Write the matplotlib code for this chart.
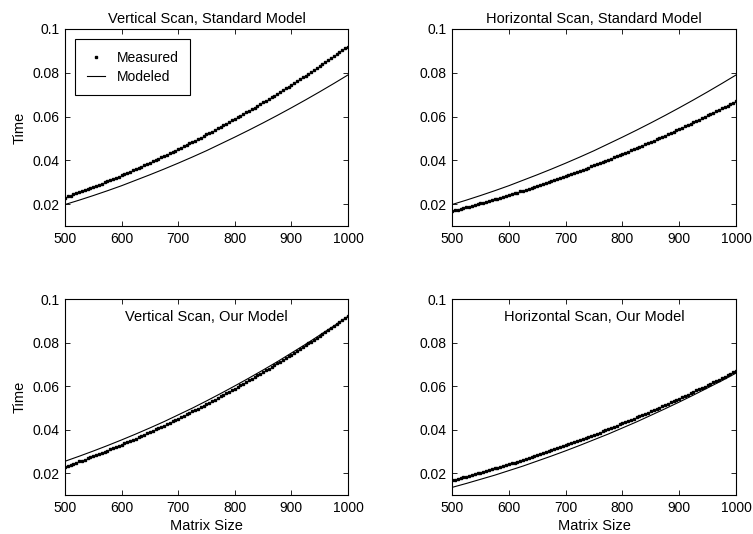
import numpy as np
import matplotlib
matplotlib.use('Agg')
import matplotlib.pyplot as plt

plt.rcParams['font.family'] = ['Liberation Sans', 'DejaVu Sans']

# matrix sizes for measured points (step 5) and model curves (step 25)
n_meas = np.arange(500, 1001, 5)
n_model = np.arange(500, 1001, 25)

vert_measured = [
    0.0230, 0.0235, 0.0239, 0.0244, 0.0249, 0.0254, 0.0258, 0.0263, 0.0268, 0.0273,
    0.0278, 0.0283, 0.0289, 0.0294, 0.0299, 0.0304, 0.0310, 0.0315, 0.0320, 0.0326,
    0.0331, 0.0337, 0.0342, 0.0348, 0.0354, 0.0359, 0.0365, 0.0371, 0.0377, 0.0383,
    0.0389, 0.0395, 0.0401, 0.0407, 0.0413, 0.0419, 0.0425, 0.0432, 0.0438, 0.0444,
    0.0451, 0.0457, 0.0464, 0.0470, 0.0477, 0.0484, 0.0490, 0.0497, 0.0504, 0.0511,
    0.0518, 0.0524, 0.0531, 0.0538, 0.0546, 0.0553, 0.0560, 0.0567, 0.0574, 0.0582,
    0.0589, 0.0596, 0.0604, 0.0611, 0.0619, 0.0626, 0.0634, 0.0641, 0.0649, 0.0657,
    0.0665, 0.0673, 0.0680, 0.0688, 0.0696, 0.0704, 0.0712, 0.0721, 0.0729, 0.0737,
    0.0745, 0.0754, 0.0762, 0.0770, 0.0779, 0.0787, 0.0796, 0.0804, 0.0813, 0.0822,
    0.0830, 0.0839, 0.0848, 0.0857, 0.0866, 0.0875, 0.0884, 0.0893, 0.0902, 0.0911,
    0.0920]

horiz_measured = [
    0.0168, 0.0171, 0.0174, 0.0178, 0.0181, 0.0185, 0.0188, 0.0192, 0.0195, 0.0199,
    0.0203, 0.0206, 0.0210, 0.0214, 0.0218, 0.0222, 0.0225, 0.0229, 0.0233, 0.0237,
    0.0241, 0.0245, 0.0249, 0.0253, 0.0258, 0.0262, 0.0266, 0.0270, 0.0274, 0.0279,
    0.0283, 0.0287, 0.0292, 0.0296, 0.0301, 0.0305, 0.0310, 0.0314, 0.0319, 0.0324,
    0.0328, 0.0333, 0.0338, 0.0343, 0.0347, 0.0352, 0.0357, 0.0362, 0.0367, 0.0372,
    0.0377, 0.0382, 0.0387, 0.0392, 0.0397, 0.0402, 0.0408, 0.0413, 0.0418, 0.0424,
    0.0429, 0.0434, 0.0440, 0.0445, 0.0451, 0.0456, 0.0462, 0.0467, 0.0473, 0.0478,
    0.0484, 0.0490, 0.0496, 0.0501, 0.0507, 0.0513, 0.0519, 0.0525, 0.0531, 0.0537,
    0.0543, 0.0549, 0.0555, 0.0561, 0.0567, 0.0573, 0.0580, 0.0586, 0.0592, 0.0598,
    0.0605, 0.0611, 0.0618, 0.0624, 0.0630, 0.0637, 0.0644, 0.0650, 0.0657, 0.0663,
    0.0670]

std_model = [0.0198, 0.0218, 0.0239, 0.0261, 0.0284, 0.0309, 0.0334, 0.0360, 0.0387, 0.0415,
             0.0444, 0.0475, 0.0506, 0.0538, 0.0571, 0.0605, 0.0640, 0.0676, 0.0713, 0.0751,
             0.0790]

our_vert_model = [0.0255, 0.0278, 0.0302, 0.0327, 0.0353, 0.0380, 0.0408, 0.0437, 0.0468, 0.0499,
                  0.0532, 0.0566, 0.0601, 0.0637, 0.0674, 0.0712, 0.0752, 0.0792, 0.0834, 0.0876,
                  0.0920]

our_horiz_model = [0.0135, 0.0153, 0.0172, 0.0191, 0.0212, 0.0233, 0.0256, 0.0279, 0.0303, 0.0328,
                   0.0354, 0.0380, 0.0408, 0.0436, 0.0466, 0.0496, 0.0527, 0.0559, 0.0592, 0.0625,
                   0.0660]

xticks = [500, 600, 700, 800, 900, 1000]
yticks = [0.02, 0.04, 0.06, 0.08, 0.1]
ytick_labels = ['0.02', '0.04', '0.06', '0.08', '0.1']

fs = 10

fig = plt.figure(figsize=(7.53, 5.34), dpi=100)

panels = [
    ([0.0863, 0.5768, 0.3758, 0.3689], vert_measured, std_model, 'Vertical Scan, Standard Model', False, True, False),
    ([0.6003, 0.5768, 0.3772, 0.3689], horiz_measured, std_model, 'Horizontal Scan, Standard Model', False, False, False),
    ([0.0863, 0.0730, 0.3758, 0.3670], vert_measured, our_vert_model, 'Vertical Scan, Our Model', True, True, True),
    ([0.6003, 0.0730, 0.3772, 0.3670], horiz_measured, our_horiz_model, 'Horizontal Scan, Our Model', True, False, True),
]

for i, (pos, meas, model, title, inside, ylab, xlab) in enumerate(panels):
    ax = fig.add_axes(pos)
    ax.plot(n_meas, meas, linestyle='none', marker='s', markersize=1.9,
            color='black', label='Measured')
    ax.plot(n_model, model, '-', color='black', linewidth=0.8, label='Modeled')
    ax.set_xlim(500, 1000)
    ax.set_ylim(0.01, 0.1)
    ax.set_xticks(xticks)
    ax.set_yticks(yticks)
    ax.set_yticklabels(ytick_labels)
    ax.tick_params(direction='in', top=True, right=True, labelsize=fs, length=3.5, width=0.6, pad=4)
    for s in ax.spines.values():
        s.set_linewidth(0.8)
    if inside:
        ax.text(0.5, 0.908, title, transform=ax.transAxes, ha='center', va='center', fontsize=fs + 0.5)
    else:
        ax.set_title(title, fontsize=fs + 0.5, pad=4)
    if ylab:
        ax.set_ylabel('Time', fontsize=fs + 0.5, labelpad=4)
    if xlab:
        ax.set_xlabel('Matrix Size', fontsize=fs + 0.5, labelpad=3)
    if i == 0:
        leg = ax.legend(loc='upper left', fontsize=fs, fancybox=False, edgecolor='black',
                        framealpha=1, borderaxespad=0.75, handlelength=1.3, handletextpad=0.9,
                        markerscale=1.0, borderpad=0.8, labelspacing=0.4)
        leg.get_frame().set_linewidth(0.8)

fig.savefig('out.png', dpi=100)
